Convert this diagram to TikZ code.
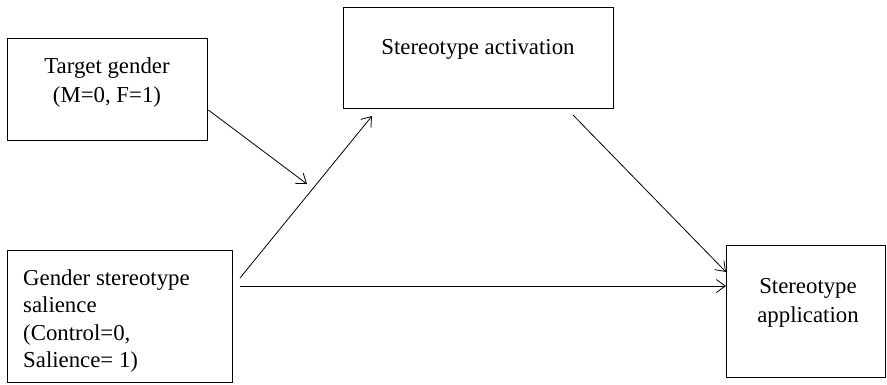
\documentclass[tikz,border=0pt]{standalone}
\usepackage{fontspec}
\setmainfont{Liberation Serif}
\usetikzlibrary{arrows.meta}
\begin{document}
\begin{tikzpicture}[x=1pt,y=-1pt,
  box/.style={draw, line width=1.4pt, inner sep=0pt, anchor=north west},
  txt/.style={inner sep=0pt, anchor=base, font=\fontsize{22.8}{28}\selectfont},
  conn/.style={line width=0.8pt, -{Straight Barb[length=9pt,width=13pt,line width=0.8pt]}}]
\useasboundingbox (0,0) rectangle (887,384);
% boxes
\node[box, minimum width=200pt, minimum height=102pt] (tg) at (7,38) {};
\node[box, minimum width=270pt, minimum height=101pt] (act) at (343,7) {};
\node[box, minimum width=225pt, minimum height=132pt] (sal) at (7,250) {};
\node[box, minimum width=159pt, minimum height=132pt] (app) at (726,245) {};
% texts
\node[txt] (tg1) at (107,73) {Target gender};
\node[txt] (tg2) at (107,102) {(M=0, F=1)};
\node[txt] (act1) at (478,54) {Stereotype activation};
\node[txt, anchor=base west] (sal1) at (23,285) {Gender stereotype};
\node[txt, anchor=base west] (sal2) at (23,312) {salience};
\node[txt, anchor=base west] (sal3) at (23,340) {(Control=0,};
\node[txt, anchor=base west] (sal4) at (23,367) {Salience= 1)};
\node[txt] (app1) at (808,293) {Stereotype};
\node[txt] (app2) at (808,322) {application};
% connector ends
\coordinate (tgout) at (tg.east |- 0,110);
\coordinate (mod) at (307,184);
\coordinate (salup) at (240,278);
\coordinate (actin) at (372,116);
\coordinate (salright) at (240,286);
\coordinate (appmid) at (app.west |- 0,286);
\coordinate (actout) at (573,115);
\coordinate (appup) at (app.west |- 0,272);
% connectors
\draw[conn] (tgout) -- (mod);
\draw[conn] (salup) -- (actin);
\draw[conn] (salright) -- (appmid);
\draw[conn] (actout) -- (appup);
\end{tikzpicture}
\end{document}
